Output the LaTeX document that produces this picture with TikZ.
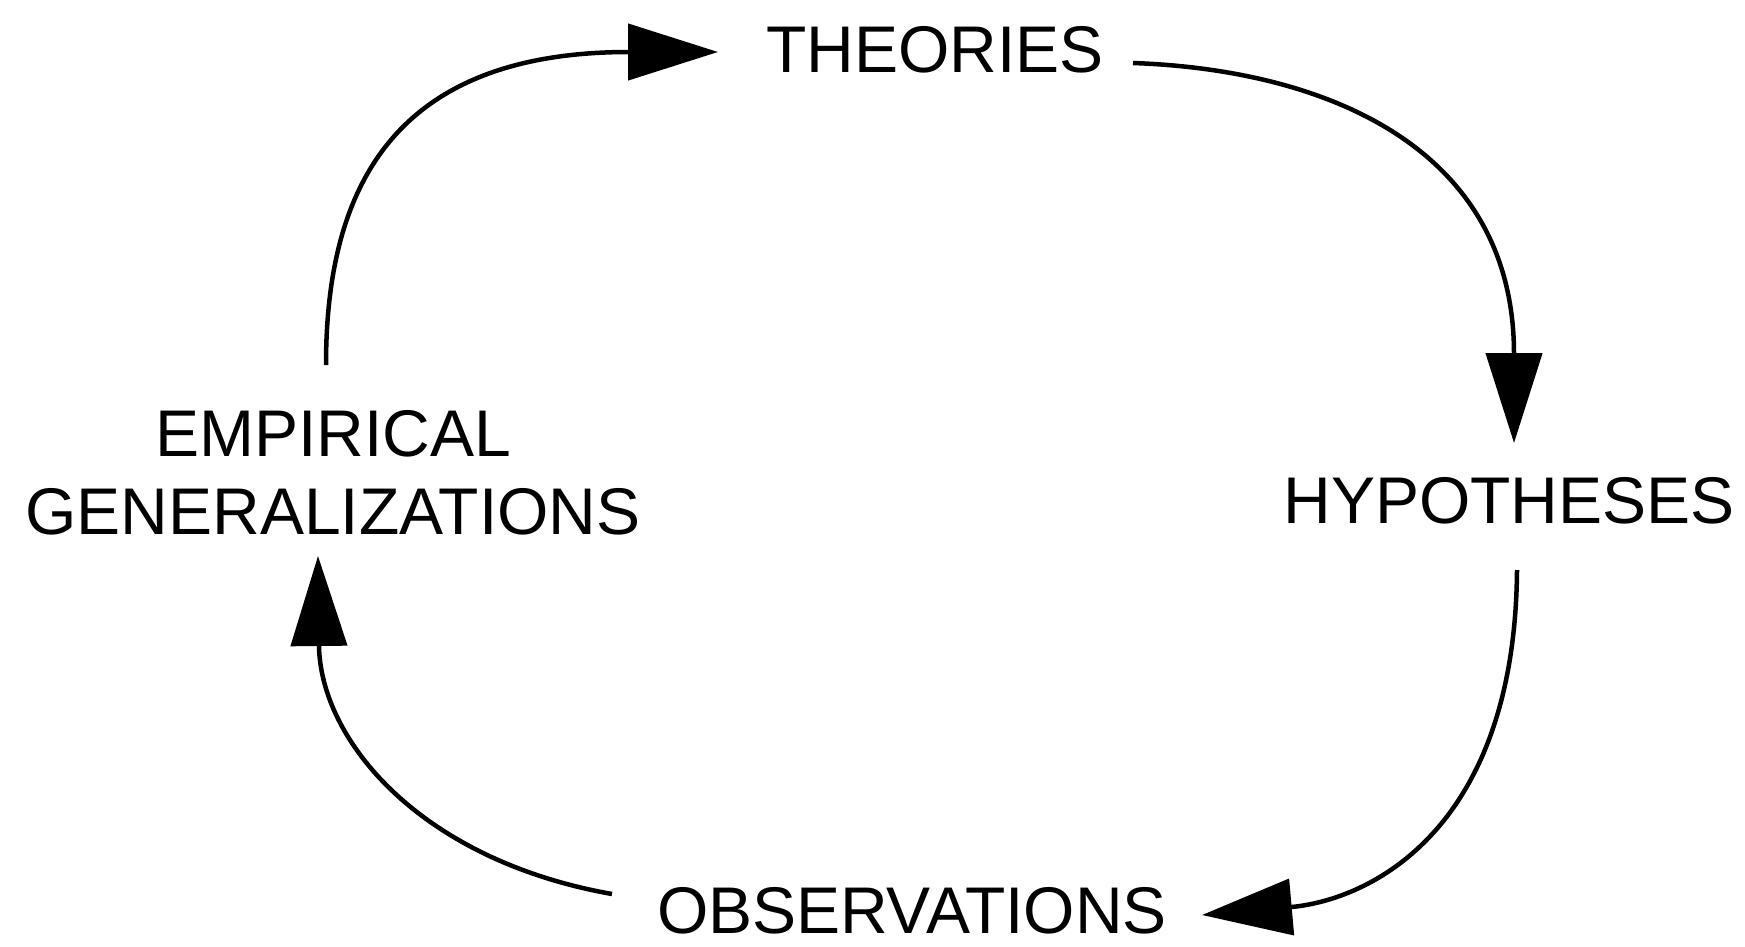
\documentclass[tikz,border=0pt]{standalone}
\usepackage{fontspec}
\setmainfont{Liberation Sans}
\usetikzlibrary{arrows.meta,calc}
\begin{document}
\begin{tikzpicture}[x=1pt,y=-1pt,
  lbl/.style={inner sep=0pt,font=\fontsize{66}{78}\selectfont},
  conn/.style={line width=4.5pt,-{Triangle[length=90pt,width=56pt]}}]
\useasboundingbox (0,0) rectangle (1745,947);
\node[lbl] (the) at (935,50) {THEORIES};
\node[lbl] (hyp) at (1509,501) {HYPOTHESES};
\node[lbl] (obs) at (912,911) {OBSERVATIONS};
\node[lbl,align=center] (emp) at (333,473) {EMPIRICAL\\GENERALIZATIONS};
\draw[conn] ($(emp.center)+(-7,-108)$) .. controls +(0,-185) and +(-318,0) .. ($(the.center)+(-217,2)$);
\draw[conn] ($(the.center)+(198,13)$) .. controls +(197,7) and +(0,-293) .. ($(hyp.center)+(5,-58)$);
\draw[conn] ($(hyp.center)+(8,69)$) .. controls +(-2,260) and +(168,-15) .. ($(obs.center)+(290,4)$);
\draw[conn] ($(obs.center)+(-300,-17)$) .. controls +(-192,-34) and +(2,184) .. ($(emp.center)+(-15,83)$);
\end{tikzpicture}
\end{document}
